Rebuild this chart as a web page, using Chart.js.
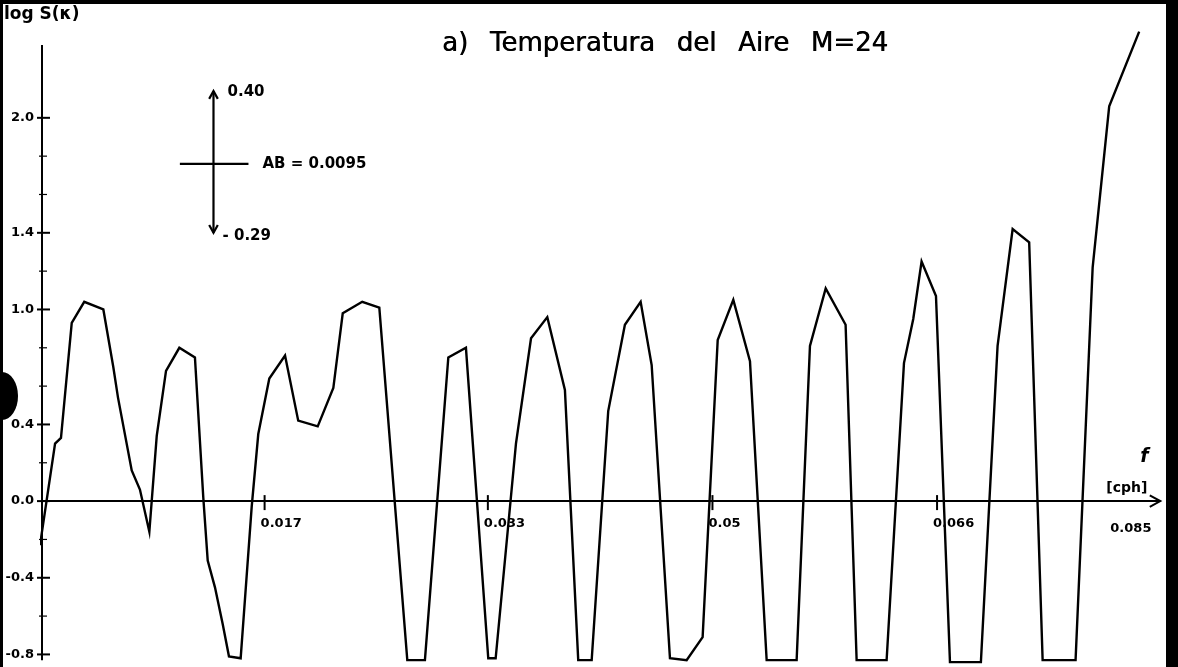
<!DOCTYPE html>
<html>
<head>
<meta charset="utf-8">
<script src="https://cdn.jsdelivr.net/npm/chart.js@4.4.1/dist/chart.umd.min.js"></script>
<style>
  html, body { margin: 0; padding: 0; background: #fff; }
  #wrap { position: relative; width: 1178px; height: 667px; overflow: hidden; }
  #frame {
    position: absolute; inset: 0; box-sizing: border-box; pointer-events: none;
    border-top: 4px solid #000; border-left: 3px solid #000; border-right: 12px solid #000;
  }
  #hole {
    position: absolute; left: -14px; top: 372px; width: 32px; height: 48px;
    border-radius: 50%; background: #000; pointer-events: none;
  }
</style>
</head>
<body>
<div id="wrap">
  <canvas id="chart"></canvas>
  <div id="frame"></div>
  <div id="hole"></div>
</div>
<script>
// frequency (cph) and log spectral estimate, vertex by vertex
const freq = [
  0, 0.00112, 0.00156, 0.00236, 0.00329, 0.00471, 0.00545, 0.00580, 0.00682, 0.00743,
  0.00813, 0.00868, 0.00937, 0.01036, 0.01152, 0.01214, 0.01247, 0.01301, 0.01358, 0.01405,
  0.01492, 0.01574, 0.01623, 0.01705, 0.01822, 0.01920, 0.02065, 0.02181, 0.02251, 0.02396,
  0.02523, 0.02731, 0.02862, 0.03036, 0.03167, 0.03333, 0.03388, 0.03539, 0.03651, 0.03772,
  0.03903, 0.04002, 0.04102, 0.04225, 0.04349, 0.04466, 0.04548, 0.04684, 0.04808, 0.04927,
  0.05039, 0.05155, 0.05279, 0.05403, 0.05626, 0.05725, 0.05842, 0.05990, 0.06072, 0.06295,
  0.06424, 0.06493, 0.06555, 0.06662, 0.06766, 0.06996, 0.07120, 0.07232, 0.07355, 0.07455,
  0.07700, 0.07827, 0.07950, 0.08173
];
const logS = [
  -0.23, 0.30, 0.33, 0.93, 1.04, 1.00, 0.70, 0.54, 0.16, 0.06,
  -0.16, 0.34, 0.68, 0.80, 0.75, 0.02, -0.31, -0.45, -0.64, -0.81,
  -0.82, -0.03, 0.35, 0.64, 0.76, 0.42, 0.39, 0.59, 0.98, 1.04,
  1.01, -0.83, -0.83, 0.75, 0.80, -0.82, -0.82, 0.30, 0.85, 0.96,
  0.58, -0.83, -0.83, 0.47, 0.92, 1.04, 0.71, -0.82, -0.83, -0.71,
  0.84, 1.05, 0.73, -0.83, -0.83, 0.81, 1.11, 0.92, -0.83, -0.83,
  0.72, 0.95, 1.25, 1.07, -0.84, -0.84, 0.81, 1.42, 1.35, -0.83,
  -0.83, 1.22, 2.06, 2.45
];

const yTicks = [-0.8, -0.6, -0.4, -0.2, 0, 0.2, 0.4, 0.6, 0.8, 1.0, 1.2, 1.4, 1.6, 1.8, 2.0];
const yLabels = { '-0.8': '-0.8', '-0.4': '-0.4', '0': '0.0', '0.4': '0.4', '1': '1.0', '1.4': '1.4', '2': '2.0' };
const xTicks = [0.0167, 0.0333, 0.05, 0.0667];
const xLabels = ['0.017', '0.033', '0.05', '0.066'];
const xEndLabel = '0.085';

// confidence bar: lower end, centre, upper end / left, centre, right
const barFreq = [0.0104, 0.0129, 0.0155];
const barLevel = [1.40, 1.76, 2.14];

const ink = '#000';
const font = 'DejaVu Sans, sans-serif';

function arrowHead(ctx, x, y, dx, dy, size) {
  // open chevron pointing along (dx, dy)
  const a = Math.atan2(dy, dx);
  ctx.beginPath();
  ctx.moveTo(x - size * Math.cos(a - 0.5), y - size * Math.sin(a - 0.5));
  ctx.lineTo(x, y);
  ctx.lineTo(x - size * Math.cos(a + 0.5), y - size * Math.sin(a + 0.5));
  ctx.stroke();
}

const handAxes = {
  id: 'handAxes',
  afterDatasetsDraw(chart) {
    const { ctx, scales: { x, y } } = chart;
    ctx.save();
    ctx.strokeStyle = ink;
    ctx.fillStyle = ink;
    ctx.lineWidth = 2;

    // y axis
    const x0 = x.getPixelForValue(0) + 2;
    ctx.beginPath();
    ctx.moveTo(x0, y.getPixelForValue(-0.83));
    ctx.lineTo(x0, y.getPixelForValue(2.38));
    ctx.stroke();

    ctx.font = 'bold 13px ' + font;
    ctx.textAlign = 'right';
    ctx.textBaseline = 'middle';
    yTicks.forEach(v => {
      const py = y.getPixelForValue(v);
      const label = yLabels[String(Math.round(v * 10) / 10)];
      ctx.lineWidth = label ? 2 : 1.2;
      ctx.beginPath();
      ctx.moveTo(x0 - (label ? 5 : 3), py);
      ctx.lineTo(x0 + (label ? 8 : 5), py);
      ctx.stroke();
      if (label) ctx.fillText(label, x0 - 8, py);
    });

    // x axis with arrow
    const y0 = y.getPixelForValue(0);
    const xEnd = x.getPixelForValue(0.0833);
    ctx.lineWidth = 2;
    ctx.beginPath();
    ctx.moveTo(x0, y0);
    ctx.lineTo(xEnd, y0);
    ctx.stroke();
    arrowHead(ctx, xEnd, y0, 1, 0, 12);

    ctx.textAlign = 'left';
    xTicks.forEach((v, i) => {
      const px = x.getPixelForValue(v);
      ctx.beginPath();
      ctx.moveTo(px, y0 - 6);
      ctx.lineTo(px, y0 + 9);
      ctx.stroke();
      ctx.fillText(xLabels[i], px - 4, y0 + 23);
    });
    ctx.fillText(xEndLabel, xEnd - 50, y0 + 28);

    ctx.font = 'italic bold 19px ' + font;
    ctx.fillText('f', xEnd - 20, y0 - 44);
    ctx.font = 'bold 14px ' + font;
    ctx.fillText('[cph]', xEnd - 54, y0 - 13);

    // axis name
    ctx.font = 'bold 17px ' + font;
    ctx.textBaseline = 'top';
    ctx.fillText('log S(κ)', 4, 6);

    // confidence bar
    const bx = x.getPixelForValue(barFreq[1]);
    const top = y.getPixelForValue(barLevel[2]);
    const mid = y.getPixelForValue(barLevel[1]);
    const bot = y.getPixelForValue(barLevel[0]);
    ctx.lineWidth = 2.2;
    ctx.beginPath();
    ctx.moveTo(bx, top);
    ctx.lineTo(bx, bot);
    ctx.moveTo(x.getPixelForValue(barFreq[0]), mid);
    ctx.lineTo(x.getPixelForValue(barFreq[2]), mid);
    ctx.stroke();
    arrowHead(ctx, bx, top, 0, -1, 9);
    arrowHead(ctx, bx, bot, 0, 1, 9);
    ctx.font = 'bold 15px ' + font;
    ctx.textBaseline = 'middle';
    ctx.fillText('0.40', bx + 14, top + 1);
    ctx.fillText('AB = 0.0095', x.getPixelForValue(barFreq[2]) + 14, mid);
    ctx.fillText('- 0.29', bx + 9, bot + 3);

    // heading, words spread over a fixed span
    ctx.font = '26px ' + font;
    const words = ['a)', 'Temperatura', 'del', 'Aire', 'M=24'];
    const span = [442, 888];
    const widths = words.map(w => ctx.measureText(w).width);
    const gap = (span[1] - span[0] - widths.reduce((s, w) => s + w, 0)) / (words.length - 1);
    let cx = span[0];
    words.forEach((w, i) => {
      ctx.fillText(w, cx, 44);
      ctx.fillText(w, cx + 0.6, 44);
      cx += widths[i] + gap;
    });

    ctx.restore();
  }
};

new Chart(document.getElementById('chart'), {
  type: 'line',
  data: {
    datasets: [{
      data: freq.map((f, i) => ({ x: f, y: logS[i] })),
      borderColor: ink,
      borderWidth: 2.4,
      pointRadius: 0,
      tension: 0,
      fill: false
    }]
  },
  options: {
    responsive: true,
    maintainAspectRatio: false,
    animation: false,
    layout: { padding: { left: 40, right: 15, top: 22, bottom: 3 } },
    plugins: { legend: { display: false }, tooltip: { enabled: false } },
    scales: {
      x: { type: 'linear', min: 0, max: 0.0835, display: false },
      y: { min: -0.85, max: 2.5, display: false }
    }
  },
  plugins: [handAxes]
});
</script>
</body>
</html>
